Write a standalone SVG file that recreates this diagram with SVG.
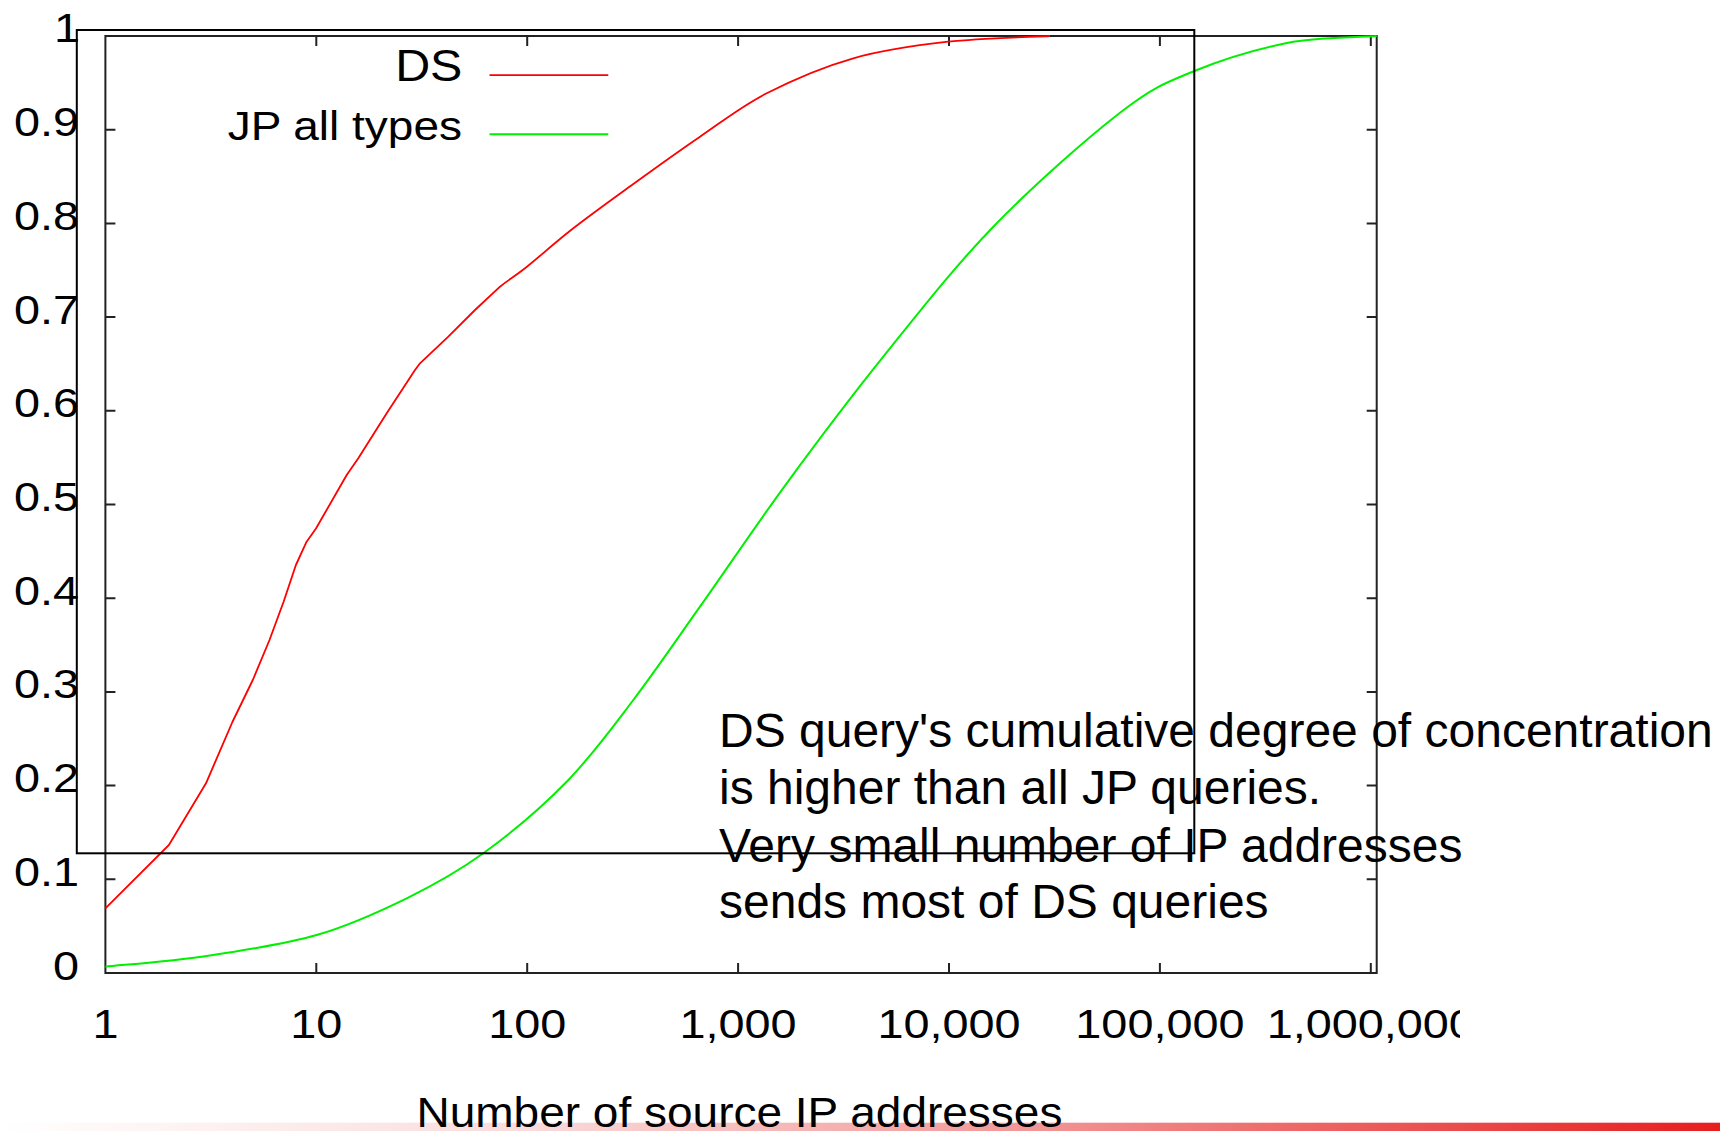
<svg xmlns="http://www.w3.org/2000/svg" width="1720" height="1131" viewBox="0 0 1720 1131">
  <style>
    text { font-family: "Liberation Sans", Arial, sans-serif; fill: #000; }
    .tick { font-size: 40px; }
    .note { font-size: 48px; }
    .frame { fill: none; stroke: #222; stroke-width: 2; }
    .ticks { stroke: #222; stroke-width: 2; fill: none; }
    .overlay { fill: none; stroke: #000; stroke-width: 2; }
    .ds { fill: none; stroke: #ff0000; stroke-width: 1.8; stroke-linejoin: round; }
    .jp { fill: none; stroke: #00f000; stroke-width: 2; stroke-linejoin: round; }
  </style>
  <defs>
    <linearGradient id="band" x1="0" y1="0" x2="1" y2="0">
      <stop offset="0" stop-color="#ffffff"/>
      <stop offset="0.3" stop-color="#fadcdc"/>
      <stop offset="0.6" stop-color="#f29696"/>
      <stop offset="1" stop-color="#e61e1e"/>
    </linearGradient>
    <clipPath id="labelClip">
      <rect x="0" y="0" width="1460" height="1131"/>
    </clipPath>
  </defs>

  <rect width="1720" height="1131" fill="#ffffff"/>

  <!-- decorative band along the bottom edge -->
  <rect id="bottom-band" x="0" y="1122.7" width="1720" height="8.3" fill="url(#band)"/>

  <!-- plot frame and tick marks -->
  <g id="axes">
    <rect class="frame" x="105.4" y="36" width="1271.3" height="937"/>
    <path class="ticks" d="
      M316.3,973v-10 M527.2,973v-10 M738.1,973v-10 M949,973v-10 M1159.9,973v-10 M1370.8,973v-10
      M316.3,36v10 M527.2,36v10 M738.1,36v10 M949,36v10 M1159.9,36v10 M1370.8,36v10
      M105.4,879.3h10 M105.4,785.6h10 M105.4,691.9h10 M105.4,598.2h10 M105.4,504.5h10
      M105.4,410.8h10 M105.4,317.1h10 M105.4,223.4h10 M105.4,129.7h10
      M1376.7,879.3h-10 M1376.7,785.6h-10 M1376.7,691.9h-10 M1376.7,598.2h-10 M1376.7,504.5h-10
      M1376.7,410.8h-10 M1376.7,317.1h-10 M1376.7,223.4h-10 M1376.7,129.7h-10"/>
  </g>

  <!-- y axis labels -->
  <g id="y-labels" class="tick" text-anchor="end">
    <text transform="translate(79,979.5) scale(1.17,1)">0</text>
    <text transform="translate(79,885.8) scale(1.17,1)">0.1</text>
    <text transform="translate(79,792.1) scale(1.17,1)">0.2</text>
    <text transform="translate(79,698.4) scale(1.17,1)">0.3</text>
    <text transform="translate(79,604.7) scale(1.17,1)">0.4</text>
    <text transform="translate(79,511) scale(1.17,1)">0.5</text>
    <text transform="translate(79,417.3) scale(1.17,1)">0.6</text>
    <text transform="translate(79,323.6) scale(1.17,1)">0.7</text>
    <text transform="translate(79,229.9) scale(1.17,1)">0.8</text>
    <text transform="translate(79,136.2) scale(1.17,1)">0.9</text>
    <text transform="translate(80,42.3) scale(1.17,1)">1</text>
  </g>

  <!-- x axis labels (log scale) -->
  <g id="x-labels" class="tick" text-anchor="middle">
    <text transform="translate(105.4,1038) scale(1.17,1)">1</text>
    <text transform="translate(316.3,1038) scale(1.17,1)">10</text>
    <text transform="translate(527.2,1038) scale(1.17,1)">100</text>
    <text transform="translate(738.1,1038) scale(1.17,1)">1,000</text>
    <text transform="translate(949,1038) scale(1.17,1)">10,000</text>
    <text transform="translate(1159.9,1038) scale(1.17,1)">100,000</text>
    <g clip-path="url(#labelClip)">
      <text transform="translate(1370.8,1038) scale(1.17,1)">1,000,000</text>
    </g>
  </g>

  <g id="x-title">
    <text font-size="43" transform="translate(416.5,1126.5) scale(1.07,1)">Number of source IP addresses</text>
  </g>

  <!-- data series -->
  <g id="series">
    <path id="ds-curve" class="ds" d="M105.4,908.3 L168.9,845 206,783.3 232.4,722 252.8,680 269.5,640 283.6,601.7 295.9,565 306.6,541.7 316,528.5 346.7,475 358.3,458.3 386.7,413.3 415,370 420,363.3 448.3,336.7 475,310 500,286.7
      C508.3,279.7 512.8,278 525,268.3
      C537.2,258.6 555.2,242.4 573.3,228.3
      C591.4,214.2 612.2,199.3 633.3,184
      C654.4,168.7 677.8,151.8 700,136.7
      C722.2,121.6 741.1,106.4 766.7,93.3
      C792.3,80.2 823,66.9 853.3,58.3
      C883.6,49.7 915.5,45.4 948.3,41.7
      C981.1,38 1033,37 1050,36"/>
    <path id="jp-curve" class="jp" d="M105.4,966.7
      C122.3,964.9 171.5,961.3 206.7,956
      C241.9,950.7 283.4,944.6 316.7,935
      C350,925.4 378.9,911.9 406.7,898.3
      C434.5,884.7 456.6,872.7 483.3,853.3
      C510,833.9 541.7,807.3 566.7,781.7
      C591.7,756.1 611.1,729.2 633.3,700
      C655.5,670.8 674.4,642.8 700,606.7
      C725.6,570.6 756.1,525 786.7,483.3
      C817.3,441.6 848.9,399.5 883.3,356.7
      C917.7,313.9 953.9,267.4 993.3,226.7
      C1032.7,186 1086.4,138.7 1120,112.7
      C1153.6,86.7 1166.1,82.5 1195,70.7
      C1223.9,58.9 1263,47.5 1293.3,41.7
      C1323.6,37 1362.8,37 1376.7,36"/>
  </g>

  <!-- key -->
  <g id="legend">
    <text font-size="44" text-anchor="end" transform="translate(462.4,81) scale(1.1,1)">DS</text>
    <line class="ds" x1="489.5" y1="75.2" x2="608.3" y2="75.2"/>
    <text class="tick" text-anchor="end" transform="translate(462,139.5) scale(1.15,1)">JP all types</text>
    <line class="jp" x1="489.5" y1="134.3" x2="608.3" y2="134.3"/>
  </g>

  <!-- highlight box -->
  <rect id="highlight" class="overlay" x="76.8" y="30" width="1117.5" height="823.3"/>

  <!-- annotation -->
  <g id="annotation" class="note">
    <text x="719" y="747">DS query's cumulative degree of concentration</text>
    <text x="719" y="804">is higher than all JP queries.</text>
    <text x="719" y="861.5">Very small number of IP addresses</text>
    <text x="719" y="918">sends most of DS queries</text>
  </g>
</svg>
